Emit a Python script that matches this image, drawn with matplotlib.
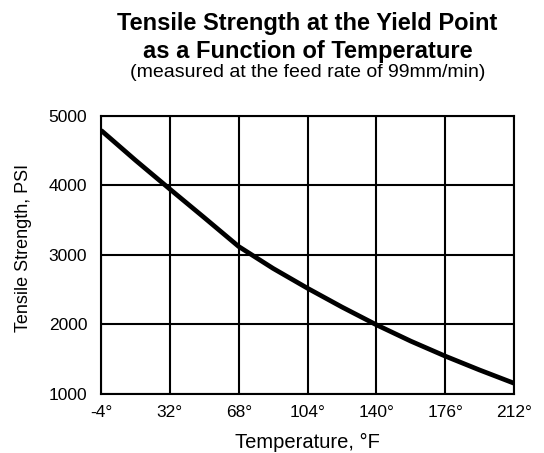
import numpy as np
import matplotlib.pyplot as plt

plt.rcParams['font.family'] = ['Liberation Sans', 'DejaVu Sans']

# Data
temps = [-4, 14, 32, 50, 68, 86, 104, 122, 140, 158, 176, 194, 212]
strength = [4790, 4360, 3945, 3535, 3120, 2805, 2520, 2250, 1995, 1760, 1545, 1345, 1155]
xticks = [-4, 32, 68, 104, 140, 176, 212]
yticks = [1000, 2000, 3000, 4000, 5000]

fig = plt.figure(figsize=(5.44, 4.53), dpi=100)
ax = fig.add_axes([0.1857, 0.1302, 0.7592, 0.6144])

ax.plot(temps, strength, color='black', linewidth=3.4, solid_capstyle='butt')

ax.set_xlim(-4, 212)
ax.set_ylim(1000, 5000)
ax.set_xticks(xticks)
ax.set_xticklabels([f"{t}\u00b0" for t in xticks])
ax.set_yticks(yticks)
ax.grid(True, color='black', linewidth=1.5)
ax.tick_params(axis='x', length=0, labelsize=12.5, pad=8)
ax.tick_params(axis='y', length=0, labelsize=12.5, pad=10)
for s in ax.spines.values():
    s.set_linewidth(1.5)

ax.set_xlabel("Temperature, \u00b0F", fontsize=14.5)
ax.xaxis.set_label_coords(0.5, -0.194)
ax.xaxis.label.set_va('baseline')
ax.set_ylabel("Tensile Strength, PSI", fontsize=13)
ax.yaxis.set_label_coords(-0.168, 0.525)

fig.text(0.565, 0.934, "Tensile Strength at the Yield Point", ha='center',
         va='baseline', fontsize=17, fontweight='bold')
fig.text(0.565, 0.872, "as a Function of Temperature", ha='center',
         va='baseline', fontsize=17, fontweight='bold')
fig.text(0.565, 0.830, "(measured at the feed rate of 99mm/min)", ha='center',
         va='baseline', fontsize=14)

plt.savefig('out.png', dpi=100)
